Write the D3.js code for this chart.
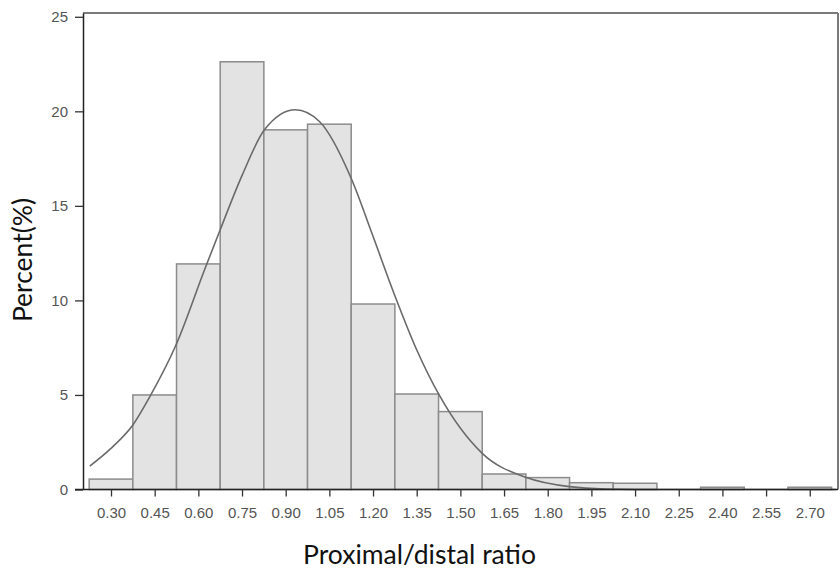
<!DOCTYPE html>
<html>
<head>
<meta charset="utf-8">
<script src="https://cdn.jsdelivr.net/npm/d3@7"></script>
<style>
  html, body { margin: 0; padding: 0; background: #fff; }
  svg { display: block; }
</style>
</head>
<body>
<svg id="chart" width="840" height="569"></svg>
<script>
// ---- data ----
const binCenters = [0.30, 0.45, 0.60, 0.75, 0.90, 1.05, 1.20, 1.35, 1.50, 1.65, 1.80, 1.95, 2.10, 2.25, 2.40, 2.55, 2.70];
const tickLabels = ["0.30", "0.45", "0.60", "0.75", "0.90", "1.05", "1.20", "1.35", "1.50", "1.65", "1.80", "1.95", "2.10", "2.25", "2.40", "2.55", "2.70"];
const percents = [0.55, 5.0, 11.93, 22.62, 19.02, 19.32, 9.81, 5.05, 4.12, 0.82, 0.63, 0.36, 0.33, 0, 0.12, 0, 0.12];
const binWidth = 0.15;
const yTicks = [0, 5, 10, 15, 20, 25];
// normal-curve overlay, points
const curveX = [0.227, 0.298, 0.375, 0.433, 0.522, 0.622, 0.674, 0.751, 0.827, 0.933, 1.016, 1.127, 1.198, 1.274, 1.351, 1.427, 1.575, 1.727, 1.874, 2.00, 2.20, 2.50, 2.79];
const curveY = [1.24, 2.15, 3.41, 4.9, 7.6, 11.65, 13.7, 16.64, 19.02, 20.08, 19.46, 16.38, 13.47, 10.29, 7.35, 5.0, 1.91, 0.63, 0.15, 0.03, 0.0, 0.0, 0.0];

const svg = d3.select("#chart");

const x = d3.scaleLinear().domain([0.2038, 2.797]).range([83, 838]);
const y = d3.scaleLinear().domain([0, 25.2]).range([489.5, 13]);

// bars
svg.append("g")
  .selectAll("rect")
  .data(binCenters.map((c, i) => ({ c, v: percents[i] })).filter(d => d.v > 0))
  .join("rect")
  .attr("x", d => x(d.c - binWidth / 2))
  .attr("width", d => x(d.c + binWidth / 2) - x(d.c - binWidth / 2))
  .attr("y", d => y(d.v))
  .attr("height", d => y(0) - y(d.v))
  .attr("fill", "#e3e3e3")
  .attr("stroke", "#8c8c8c")
  .attr("stroke-width", 1.5);

// curve
const line = d3.line()
  .x(d => x(d[0]))
  .y(d => y(d[1]))
  .curve(d3.curveMonotoneX);
svg.append("path")
  .datum(curveX.map((v, i) => [v, curveY[i]]))
  .attr("d", line)
  .attr("fill", "none")
  .attr("stroke", "#6a6a6a")
  .attr("stroke-width", 1.6);

// frame top & right
svg.append("line")
  .attr("x1", x.range()[0]).attr("x2", x.range()[1])
  .attr("y1", y.range()[1]).attr("y2", y.range()[1])
  .attr("stroke", "#7a7a7a").attr("stroke-width", 2);
svg.append("line")
  .attr("x1", x.range()[1]).attr("x2", x.range()[1])
  .attr("y1", y.range()[1]).attr("y2", y.range()[0])
  .attr("stroke", "#7a7a7a").attr("stroke-width", 2);

// axes
const yAxis = svg.append("g")
  .attr("transform", `translate(${x.range()[0]},0)`)
  .call(d3.axisLeft(y).tickValues(yTicks).tickSize(8).tickPadding(7).tickSizeOuter(0));
const xAxis = svg.append("g")
  .attr("transform", `translate(0,${y(0)})`)
  .call(d3.axisBottom(x).tickValues(binCenters).tickFormat((d, i) => tickLabels[i])
        .tickSize(7).tickPadding(11).tickSizeOuter(0));

[yAxis, xAxis].forEach(g => {
  g.select(".domain").attr("stroke", "#222").attr("stroke-width", 1.5);
  g.selectAll(".tick line").attr("stroke", "#333").attr("stroke-width", 1.3);
  g.selectAll(".tick text")
    .attr("fill", "#555")
    .style("font-family", "'Liberation Sans', Arial, sans-serif")
    .style("font-size", "15px");
});
// extend bottom axis slightly left of the y-axis like the reference
xAxis.select(".domain").attr("d", `M${x.range()[0] - 8},0H${x.range()[1]}`);

// axis titles
svg.append("text")
  .attr("x", 419.5).attr("y", 564)
  .attr("text-anchor", "middle")
  .style("font-family", "Lato, 'Open Sans', sans-serif")
  .style("font-size", "26.5px")
  .attr("fill", "#111")
  .text("Proximal/distal ratio");

svg.append("text")
  .attr("transform", "translate(32,260) rotate(-90)")
  .attr("text-anchor", "middle")
  .style("font-family", "Lato, 'Open Sans', sans-serif")
  .style("font-size", "26.5px")
  .attr("fill", "#111")
  .text("Percent(%)");
</script>
</body>
</html>
